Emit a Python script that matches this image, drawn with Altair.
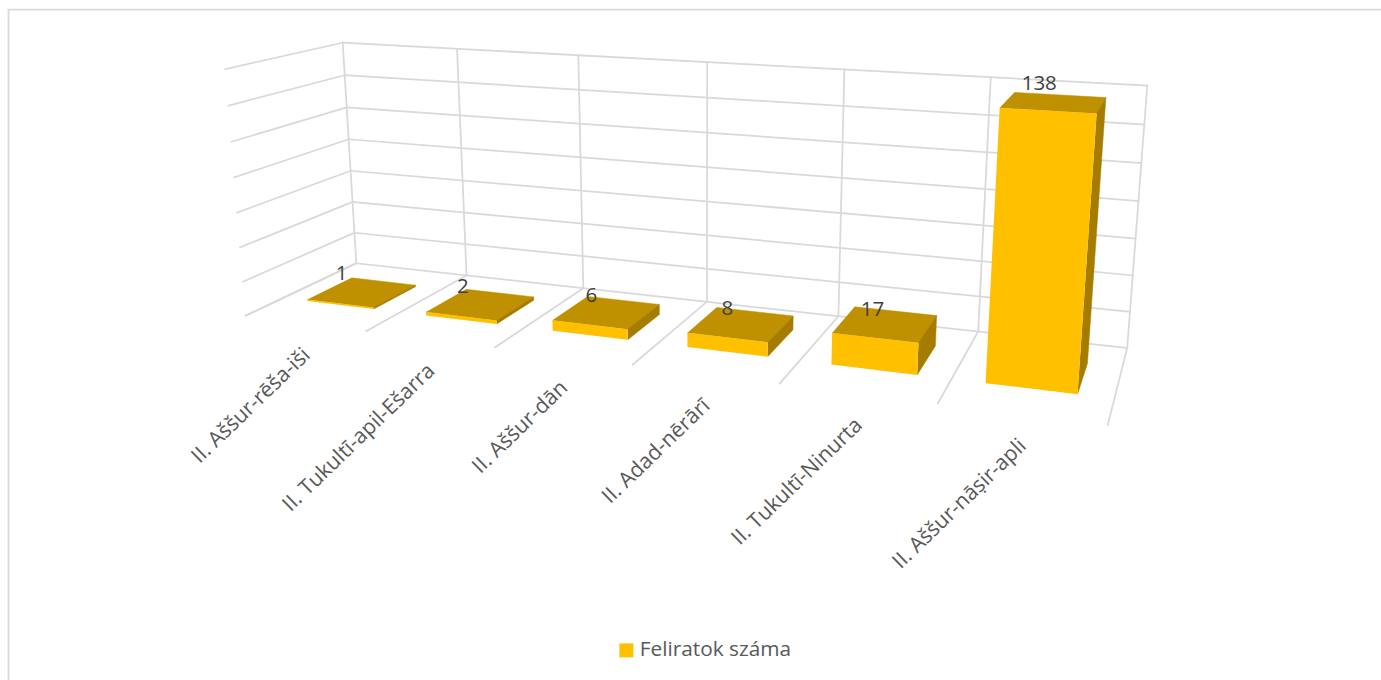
import altair as alt
import numpy as np
import pandas as pd

# Series
CATEGORIES = ["II. Aššur-rēša-iši", "II. Tukultī-apil-Ešarra", "II. Aššur-dān",
              "II. Adad-nērārī", "II. Tukultī-Ninurta", "II. Aššur-nāṣir-apli"]
VALUES = [1, 2, 6, 8, 17, 138]
SERIES = "Feliratok száma"
VALUE_TICKS = [0, 20, 40, 60, 80, 100, 120, 140]

WIDTH, HEIGHT = 1381, 680
VMAX = VALUE_TICKS[-1]

# Camera calibration: (category position, depth, value) -> screen position of the box
camera_pairs = [
    ((0, 1, 140), (342.7, 42.7)), ((0, 1, 120), (344.7, 75.3)), ((0, 1, 100), (346.7, 107.3)),
    ((0, 1, 80), (348.7, 139.3)), ((0, 1, 60), (350.7, 170.7)), ((0, 1, 40), (352.7, 202.0)),
    ((0, 1, 20), (354.7, 232.7)), ((0, 1, 0), (356.0, 263.3)),
    ((0, 0, 140), (225.3, 69.3)), ((0, 0, 120), (228.3, 105.3)), ((0, 0, 100), (231.3, 142.0)),
    ((0, 0, 80), (234.3, 177.3)), ((0, 0, 60), (237.3, 212.7)), ((0, 0, 40), (240.0, 247.3)),
    ((0, 0, 20), (243.0, 281.7)), ((0, 0, 0), (245.7, 315.7)),
    ((6, 1, 140), (1147.7, 85.7)), ((6, 1, 120), (1144.0, 124.0)), ((6, 1, 100), (1141.0, 163.3)),
    ((6, 1, 80), (1138.3, 201.0)), ((6, 1, 60), (1135.7, 238.3)), ((6, 1, 20), (1130.0, 311.7)),
    ((6, 1, 0), (1127.3, 348.3)), ((6, 0, 0), (1107.3, 425.3)),
    ((1, 0, 0), (366.7, 330.7)), ((5, 0, 0), (938.3, 403.3)),
    ((1, 1, 0), (466.0, 275.3)), ((5, 1, 0), (978.3, 331.7)), ((1, 1, 140), (457.3, 49.0)),
]


def solve_camera(pairs):
    rows = []
    for (c, d, v), (px, py) in pairs:
        w = [c, d, v / VMAX, 1.0]
        rows.append(w + [0, 0, 0, 0] + [-px * t for t in w])
        rows.append([0, 0, 0, 0] + w + [-py * t for t in w])
    a = np.array(rows, dtype=float)
    scale = np.abs(a).max(axis=0)
    _, _, vt = np.linalg.svd(a / scale)
    return (vt[-1] / scale).reshape(3, 4)


CAMERA = solve_camera(camera_pairs)


def project(c, d, v):
    sx, sy, sw = CAMERA @ np.array([c, d, v / VMAX, 1.0])
    return float(sx / sw), float(sy / sw)


def polyline(rows, key, points):
    for k, p in enumerate(points):
        x, y = project(*p)
        rows.append({"id": key, "k": k, "x": x, "y": y})


# Wall and floor gridlines
grid_rows = []
for v in VALUE_TICKS:
    polyline(grid_rows, f"back{v}", [(0, 1, v), (6, 1, v)])
    polyline(grid_rows, f"left{v}", [(0, 0, v), (0, 1, v)])
for c in range(len(CATEGORIES) + 1):
    polyline(grid_rows, f"vert{c}", [(c, 1, 0), (c, 1, VMAX)])
    polyline(grid_rows, f"floor{c}", [(c, 0, 0), (c, 1, 0)])

# Chart frame, open towards the right and bottom edges
frame = pd.DataFrame({"id": "frame", "k": [0, 1, 2],
                      "x": [8.5, 8.5, WIDTH], "y": [HEIGHT, 9.5, 9.5]})

# Column faces
C0, C1, D0, D1 = 0.215, 0.78, 0.31, 0.72
top_rows, side_rows, front_rows = [], [], []
for i, v in enumerate(VALUES):
    a, b = i + C0, i + C1
    polyline(top_rows, i, [(a, D0, v), (b, D0, v), (b, D1, v), (a, D1, v)])
    polyline(side_rows, i, [(b, D0, 0), (b, D1, 0), (b, D1, v), (b, D0, v)])
    polyline(front_rows, i, [(a, D0, 0), (b, D0, 0), (b, D0, v), (a, D0, v)])
for r in front_rows:
    r["series"] = SERIES

# Value labels sit by the far corner of each column top
value_rows = []
for i, v in enumerate(VALUES):
    x, y = project(i + C0, D1, v)
    value_rows.append({"x": x - 10 + 7 * i, "y": y - 4 + 2.2 * i - 16 * v / VMAX, "label": str(v)})

# Category labels hang under the front edge of the floor
cat_rows = []
for i, name in enumerate(CATEGORIES):
    x, y = project(i + 0.5, 0, 0)
    cat_rows.append({"x": x + 2, "y": y + 29, "label": name})

x_enc = alt.X("x:Q", scale=alt.Scale(domain=[0, WIDTH], nice=False, zero=False), axis=None)
y_enc = alt.Y("y:Q", scale=alt.Scale(domain=[HEIGHT, 0], nice=False, zero=False), axis=None)
FONT = "Open Sans"


def line_layer(df, color, width):
    return alt.Chart(df).mark_line(color=color, strokeWidth=width, strokeCap="square").encode(
        x=x_enc, y=y_enc, detail="id:N", order="k:Q")


def face_layer(rows, color):
    return alt.Chart(pd.DataFrame(rows)).mark_line(filled=True, fill=color, stroke=color, strokeWidth=0.5).encode(
        x=x_enc, y=y_enc, detail="id:N", order="k:Q")


front = alt.Chart(pd.DataFrame(front_rows)).mark_line(filled=True, strokeWidth=0).encode(
    x=x_enc, y=y_enc, detail="id:N", order="k:Q",
    fill=alt.Fill("series:N", scale=alt.Scale(domain=[SERIES], range=["#FFC000"]),
                  legend=alt.Legend(title=None, orient="none", legendX=616, legendY=640,
                                    symbolType="square", symbolSize=196, symbolStrokeWidth=0,
                                    labelFont=FONT, labelFontSize=20.8, labelColor="#595959",
                                    labelOffset=3)))

values_layer = alt.Chart(pd.DataFrame(value_rows)).mark_text(
    font=FONT, fontSize=20.5, color="#404040", align="center", baseline="middle").encode(
    x=x_enc, y=y_enc, text="label:N")

cats_layer = alt.Chart(pd.DataFrame(cat_rows)).mark_text(
    font=FONT, fontSize=21.2, color="#595959", align="right", baseline="middle", angle=316).encode(
    x=x_enc, y=y_enc, text="label:N")

chart = alt.layer(
    line_layer(frame, "#D9D9D9", 1.75),
    line_layer(pd.DataFrame(grid_rows), "#D9D9D9", 1.75),
    face_layer(top_rows, "#BF9000"),
    face_layer(side_rows, "#A67C00"),
    front,
    values_layer,
    cats_layer,
).properties(width=WIDTH, height=HEIGHT, padding=0, autosize=alt.AutoSizeParams(type="none"),
             background="white").configure_view(stroke=None)

chart.save("out.html", embed_options={"renderer": "svg", "actions": False})
